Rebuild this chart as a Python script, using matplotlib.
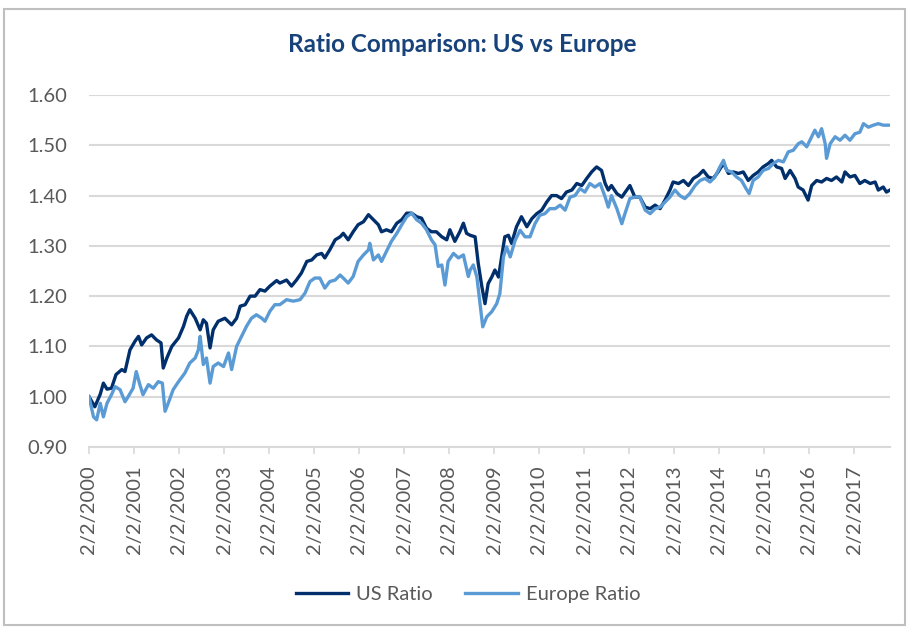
import matplotlib
matplotlib.use("Agg")
import matplotlib.pyplot as plt
from matplotlib.patches import Rectangle

# years after 2/2/2000
us_t = [0.0, 0.13, 0.25, 0.32, 0.4, 0.5, 0.6, 0.73, 0.8, 0.91, 1.02, 1.1, 1.17, 1.28, 1.39, 1.5,
        1.6, 1.65, 1.73, 1.84, 1.99, 2.1, 2.17, 2.24, 2.36, 2.47, 2.54, 2.61, 2.69, 2.76, 2.87,
        3.02, 3.17, 3.28, 3.36, 3.47, 3.58, 3.69, 3.8, 3.91, 4.02, 4.17, 4.24, 4.39, 4.5, 4.61,
        4.72, 4.84, 4.95, 5.06, 5.17, 5.24, 5.35, 5.47, 5.58, 5.65, 5.76, 5.87, 5.98, 6.1, 6.21,
        6.32, 6.43, 6.5, 6.61, 6.72, 6.84, 6.95, 7.06, 7.17, 7.28, 7.39, 7.5, 7.61, 7.72, 7.84,
        7.95, 8.02, 8.13, 8.24, 8.32, 8.39, 8.47, 8.58, 8.65, 8.73, 8.8, 8.87, 8.95, 9.02, 9.1,
        9.17, 9.24, 9.32, 9.39, 9.5, 9.61, 9.73, 9.84, 9.95, 10.06, 10.17, 10.28, 10.39, 10.5,
        10.61, 10.73, 10.84, 10.95, 11.06, 11.17, 11.28, 11.39, 11.47, 11.54, 11.61, 11.73,
        11.84, 11.95, 12.02, 12.13, 12.24, 12.36, 12.47, 12.58, 12.69, 12.8, 12.91, 12.98, 13.1,
        13.21, 13.32, 13.43, 13.54, 13.65, 13.76, 13.87, 13.98, 14.1, 14.21, 14.32, 14.43, 14.54,
        14.65, 14.76, 14.87, 14.98, 15.1, 15.17, 15.28, 15.39, 15.47, 15.58, 15.69, 15.76, 15.87,
        15.98, 16.06, 16.17, 16.28, 16.39, 16.5, 16.61, 16.73, 16.8, 16.91, 17.02, 17.13, 17.24,
        17.36, 17.47, 17.54, 17.65, 17.72, 17.8]
us_ratio = [1.00, 0.98, 1.005, 1.027, 1.015, 1.017, 1.044, 1.054, 1.05, 1.093, 1.11, 1.12, 1.103,
            1.117, 1.123, 1.113, 1.107, 1.057, 1.077, 1.10, 1.117, 1.14, 1.16, 1.173, 1.156, 1.133,
            1.153, 1.146, 1.097, 1.133, 1.15, 1.156, 1.143, 1.156, 1.18, 1.183, 1.20, 1.20, 1.213,
            1.21, 1.22, 1.231, 1.226, 1.232, 1.22, 1.232, 1.246, 1.269, 1.272, 1.282, 1.285, 1.276,
            1.292, 1.312, 1.318, 1.325, 1.312, 1.328, 1.342, 1.348, 1.362, 1.352, 1.342, 1.328,
            1.332, 1.328, 1.345, 1.352, 1.365, 1.365, 1.358, 1.355, 1.335, 1.328, 1.328, 1.318,
            1.312, 1.332, 1.309, 1.328, 1.345, 1.325, 1.321, 1.318, 1.265, 1.219, 1.185, 1.225,
            1.238, 1.252, 1.238, 1.278, 1.318, 1.321, 1.305, 1.338, 1.358, 1.338, 1.354, 1.364,
            1.371, 1.387, 1.40, 1.40, 1.394, 1.407, 1.411, 1.424, 1.42, 1.434, 1.447, 1.457, 1.45,
            1.424, 1.411, 1.42, 1.404, 1.397, 1.411, 1.42, 1.397, 1.397, 1.377, 1.374, 1.381, 1.374,
            1.391, 1.411, 1.427, 1.424, 1.43, 1.42, 1.434, 1.44, 1.45, 1.437, 1.434, 1.447, 1.464,
            1.444, 1.447, 1.444, 1.447, 1.43, 1.44, 1.447, 1.457, 1.464, 1.47, 1.457, 1.454, 1.434,
            1.45, 1.434, 1.417, 1.411, 1.391, 1.42, 1.43, 1.427, 1.434, 1.43, 1.437, 1.427, 1.447,
            1.437, 1.44, 1.424, 1.43, 1.424, 1.427, 1.411, 1.417, 1.407, 1.411]

eu_t = [0.0, 0.1, 0.17, 0.25, 0.32, 0.4, 0.5, 0.58, 0.69, 0.8, 0.87, 0.98, 1.05, 1.13, 1.2, 1.32,
        1.43, 1.54, 1.63, 1.69, 1.76, 1.87, 1.99, 2.13, 2.24, 2.36, 2.43, 2.47, 2.54, 2.61, 2.69,
        2.76, 2.87, 2.99, 3.1, 3.17, 3.28, 3.39, 3.5, 3.61, 3.72, 3.84, 3.91, 4.02, 4.13, 4.24,
        4.39, 4.54, 4.69, 4.8, 4.91, 5.02, 5.13, 5.24, 5.35, 5.47, 5.58, 5.65, 5.76, 5.87, 5.98,
        6.1, 6.21, 6.24, 6.32, 6.43, 6.5, 6.61, 6.72, 6.84, 6.95, 7.06, 7.17, 7.28, 7.39, 7.5,
        7.61, 7.69, 7.76, 7.84, 7.91, 7.98, 8.1, 8.21, 8.32, 8.43, 8.47, 8.54, 8.62, 8.69, 8.75,
        8.84, 8.95, 9.06, 9.13, 9.21, 9.28, 9.36, 9.47, 9.58, 9.69, 9.8, 9.91, 10.02, 10.13,
        10.24, 10.36, 10.47, 10.58, 10.69, 10.8, 10.91, 11.02, 11.13, 11.24, 11.36, 11.47, 11.54,
        11.61, 11.73, 11.84, 11.91, 12.02, 12.13, 12.24, 12.36, 12.47, 12.58, 12.69, 12.8, 12.91,
        13.02, 13.13, 13.24, 13.35, 13.47, 13.58, 13.69, 13.8, 13.91, 14.02, 14.1, 14.17, 14.28,
        14.39, 14.5, 14.6, 14.67, 14.76, 14.87, 14.98, 15.1, 15.21, 15.32, 15.43, 15.54, 15.65,
        15.76, 15.84, 15.95, 16.06, 16.13, 16.21, 16.28, 16.36, 16.39, 16.47, 16.58, 16.69, 16.8,
        16.91, 17.02, 17.13, 17.21, 17.32, 17.43, 17.54, 17.65, 17.8]
eu_ratio = [1.00, 0.96, 0.954, 0.987, 0.96, 0.987, 1.004, 1.02, 1.014, 0.99, 1.00, 1.017, 1.05,
            1.024, 1.004, 1.024, 1.017, 1.03, 1.027, 0.971, 0.987, 1.014, 1.03, 1.047, 1.067, 1.077,
            1.093, 1.12, 1.064, 1.077, 1.027, 1.06, 1.067, 1.06, 1.087, 1.054, 1.10, 1.12, 1.14,
            1.156, 1.163, 1.156, 1.15, 1.17, 1.183, 1.183, 1.193, 1.19, 1.193, 1.206, 1.229, 1.236,
            1.236, 1.216, 1.229, 1.232, 1.242, 1.236, 1.226, 1.239, 1.269, 1.282, 1.292, 1.305,
            1.272, 1.282, 1.269, 1.289, 1.309, 1.325, 1.342, 1.358, 1.365, 1.352, 1.345, 1.332,
            1.312, 1.302, 1.259, 1.262, 1.222, 1.269, 1.285, 1.276, 1.282, 1.239, 1.252, 1.262,
            1.238, 1.185, 1.139, 1.159, 1.169, 1.185, 1.205, 1.278, 1.298, 1.278, 1.311, 1.331,
            1.318, 1.318, 1.344, 1.361, 1.364, 1.374, 1.374, 1.381, 1.371, 1.397, 1.40, 1.414,
            1.407, 1.424, 1.417, 1.424, 1.397, 1.377, 1.40, 1.374, 1.344, 1.364, 1.394, 1.397,
            1.397, 1.371, 1.364, 1.374, 1.377, 1.387, 1.397, 1.411, 1.40, 1.394, 1.404, 1.42, 1.43,
            1.434, 1.427, 1.437, 1.457, 1.47, 1.45, 1.447, 1.437, 1.43, 1.414, 1.404, 1.43, 1.437,
            1.45, 1.454, 1.464, 1.47, 1.467, 1.487, 1.49, 1.503, 1.507, 1.497, 1.517, 1.53, 1.517,
            1.533, 1.503, 1.474, 1.503, 1.517, 1.51, 1.52, 1.51, 1.523, 1.526, 1.543, 1.536, 1.54,
            1.543, 1.54, 1.54]

years = list(range(2000, 2018))
tick_labels = ["2/2/%d" % y for y in years]
y_ticks = [0.90, 1.00, 1.10, 1.20, 1.30, 1.40, 1.50, 1.60]

plt.rcParams['font.family'] = ['Lato', 'DejaVu Sans']
gray = "#595959"

fig = plt.figure(figsize=(9.09, 6.29), dpi=100)
ax = fig.add_axes([89/909, 1 - 447/629, (890 - 89)/909, (447 - 95)/629])

# outer chart frame
fig.patches.append(Rectangle((4/909, 4/629), 901/909, 616/629, transform=fig.transFigure,
                             fill=False, edgecolor="#bfbfbf", linewidth=1.5))

ax.plot(us_t, us_ratio, color="#002f6c", lw=2.4, label="US Ratio")
ax.plot(eu_t, eu_ratio, color="#5b9bd5", lw=2.4, label="Europe Ratio")

ax.set_ylim(0.90, 1.60)
ax.set_xlim(0, 17.8)
ax.set_yticks(y_ticks)
ax.set_yticklabels(["%.2f" % v for v in y_ticks])
ax.set_xticks(range(len(years)))
ax.set_xticklabels(tick_labels, rotation=90)

ax.grid(axis="y", color="#d9d9d9", lw=1.5)
ax.set_axisbelow(True)
for s in ["top", "right", "left"]:
    ax.spines[s].set_visible(False)
ax.spines["bottom"].set_color("#d9d9d9")
ax.spines["bottom"].set_linewidth(1.5)
ax.tick_params(axis="y", length=0, pad=16, labelsize=14.5, labelcolor=gray)
ax.tick_params(axis="x", length=5, width=1.2, color="#d9d9d9", pad=8, labelsize=14.5, labelcolor=gray)

fig.text(462/909, 1 - 45/629, "Ratio Comparison: US vs Europe", ha="center", va="center",
         fontsize=17.5, fontweight="bold", color="#17427a")

fig.legend(loc="center", bbox_to_anchor=(468/909, 1 - 594/629), ncol=2, frameon=False,
           fontsize=14.5, labelcolor=gray, handlelength=2.6, handletextpad=0.4,
           columnspacing=1.6)

fig.savefig("out.png", dpi=100)
